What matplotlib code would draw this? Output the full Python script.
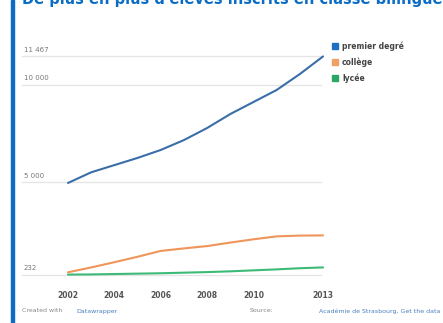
import matplotlib
matplotlib.use("Agg")
import matplotlib.pyplot as plt
import matplotlib.transforms as mtransforms

years = [2002, 2003, 2004, 2005, 2006, 2007, 2008, 2009, 2010, 2011, 2012, 2013]
premier_degre = [4950, 5500, 5870, 6240, 6650, 7160, 7780, 8500, 9120, 9740, 10560, 11467]
college = [350, 600, 870, 1150, 1450, 1580, 1700, 1880, 2050, 2200, 2240, 2250]
lycee = [232, 240, 260, 280, 300, 330, 360, 400, 450, 500, 560, 600]

series_names = ["premier degré", "collège", "lycée"]
series_colors = ["#3a6ea8", "#f0955a", "#3cba78"]
legend_colors = ["#1f6fc0", "#f0a064", "#2ca664"]

grid_values = [11467, 10000, 5000, 232]
grid_labels = ["11 467", "10 000", "5 000", "232"]
tick_years = [2002, 2004, 2006, 2008, 2010, 2013]

W, H = 443, 323
fig = plt.figure(figsize=(W / 100, H / 100), dpi=100)
fig.patch.set_facecolor("white")

# blue bar on the left edge
fig.patches.append(plt.Rectangle((11 / W, 0), 3 / W, 1, transform=fig.transFigure,
                                 color="#0a6cc4", zorder=5))

# title, cut at the top like the reference
fig.text(22 / W, 1 + 1 / H, "De plus en plus d'élèves inscrits en classe bilingue",
         color="#0a6cc4", fontsize=10.5, fontweight="bold", va="center", ha="left")

ax = fig.add_axes([20 / W, 1 - 280 / H, 310 / W, 240 / H])
ax.set_xlim(1999.93, 2013.3)
ax.set_ylim(-47, 12313)
ax.axis("off")

for v, lab in zip(grid_values, grid_labels):
    ax.plot([2000.0, 2012.9], [v, v], color="#e4e4e4", lw=0.9, zorder=1)
    ax.text(2000.1, v + 180, lab, fontsize=5, color="#777777", va="bottom", ha="left")

for vals, col in zip([premier_degre, college, lycee], series_colors):
    ax.plot(years, vals, color=col, lw=1.5, zorder=3, solid_capstyle="round")

trans = mtransforms.blended_transform_factory(ax.transData, ax.transAxes)
for yr in tick_years:
    ax.text(yr, -0.045, str(yr), transform=trans, fontsize=5.5, fontweight="bold",
            color="#555555", ha="center", va="top")

# legend
for i, (name, col) in enumerate(zip(series_names, legend_colors)):
    y = 1 - (46 + 16 * i) / H
    fig.patches.append(plt.Rectangle((332 / W, y - 3 / H), 6 / W, 6 / H,
                                     transform=fig.transFigure, color=col))
    fig.text(342 / W, y, name, fontsize=5.5, fontweight="bold", color="#444444",
             va="center", ha="left")

# footer
fig.text(22 / W, 1 - 311 / H, "Created with ", fontsize=4.5, color="#888888", va="center")
fig.text(76 / W, 1 - 311 / H, "Datawrapper", fontsize=4.5, color="#4a7ec0", va="center")
fig.text(250 / W, 1 - 311 / H, "Source:", fontsize=4.5, color="#888888", va="center")
fig.text(440 / W, 1 - 311 / H, "Académie de Strasbourg, Get the data", fontsize=4.5,
         color="#4a7ec0", va="center", ha="right")

fig.savefig("out.png", dpi=100, facecolor="white")
